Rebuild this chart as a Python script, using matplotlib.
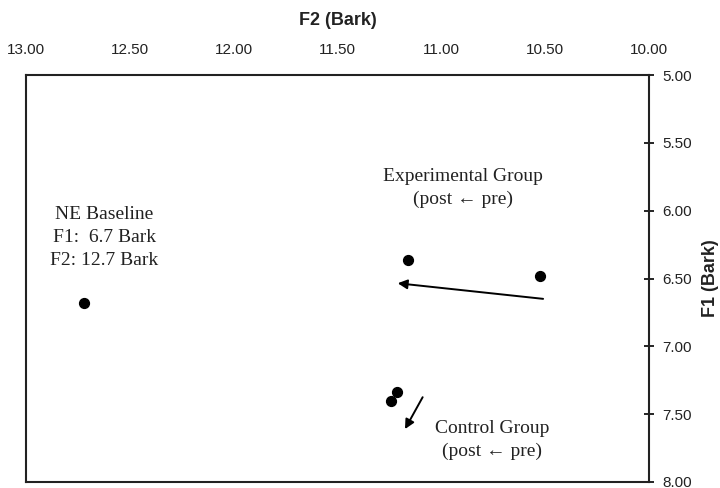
import matplotlib
matplotlib.use("Agg")
import matplotlib.pyplot as plt

# Data (F2, F1 in Bark)
point_f2 = [12.72, 11.16, 10.525, 11.215, 11.24]
point_f1 = [6.68, 6.36, 6.48, 7.335, 7.40]

# Arrows: (start F2, start F1) -> (end F2, end F1)
arrow_start_f2 = [10.51, 11.09]
arrow_start_f1 = [6.65, 7.375]
arrow_end_f2 = [11.21, 11.175]
arrow_end_f1 = [6.535, 7.61]

x_ticks = [13.0, 12.5, 12.0, 11.5, 11.0, 10.5, 10.0]
y_ticks = [5.0, 5.5, 6.0, 6.5, 7.0, 7.5, 8.0]

fig = plt.figure(figsize=(7.2, 4.88), dpi=100)
ax = fig.add_axes([0.0361, 0.0123, 0.9014 - 0.0361, 0.8463 - 0.0123])

ax.scatter(point_f2, point_f1, s=50, color="black", zorder=3)

for sx, sy, ex, ey in zip(arrow_start_f2, arrow_start_f1, arrow_end_f2, arrow_end_f1):
    ax.annotate("", xy=(ex, ey), xytext=(sx, sy),
                arrowprops=dict(arrowstyle="-|>", color="black", lw=1.4,
                                mutation_scale=14, shrinkA=0, shrinkB=0))

ax.set_xlim(13.0, 10.0)
ax.set_ylim(8.0, 5.0)
ax.set_xticks(x_ticks)
ax.set_yticks(y_ticks)
ax.set_xticklabels([f"{v:.2f}" for v in x_ticks])
ax.set_yticklabels([f"{v:.2f}" for v in y_ticks])

ax.xaxis.tick_top()
ax.xaxis.set_label_position("top")
ax.yaxis.tick_right()
ax.yaxis.set_label_position("right")

for lab in ax.get_xticklabels() + ax.get_yticklabels():
    lab.set_fontfamily("Liberation Sans")
    lab.set_fontsize(11)
    lab.set_color("#222222")

ax.tick_params(axis="x", length=0, pad=13)
ax.tick_params(axis="y", direction="inout", length=7, width=1.2, pad=6)

ax.set_xlabel("F2 (Bark)", fontfamily="Liberation Sans", fontweight="bold",
              fontsize=13, labelpad=13, color="#222222")
ax.set_ylabel("F1 (Bark)", fontfamily="Liberation Sans", fontweight="bold",
              fontsize=13, labelpad=7, color="#222222")

for sp in ax.spines.values():
    sp.set_linewidth(1.5)
    sp.set_color("#222222")

serif = dict(fontfamily="Liberation Serif", fontsize=14, color="#222222",
             ha="center", va="center", linespacing=1.45)
ax.text(12.624, 6.197, "NE Baseline\nF1:  6.7 Bark\nF2: 12.7 Bark", **serif)
ax.text(10.896, 5.833, "Experimental Group\n(post \u2190 pre)", **serif)
ax.text(10.756, 7.69, "Control Group\n(post \u2190 pre)", **serif)

fig.savefig("out.png", dpi=100)
